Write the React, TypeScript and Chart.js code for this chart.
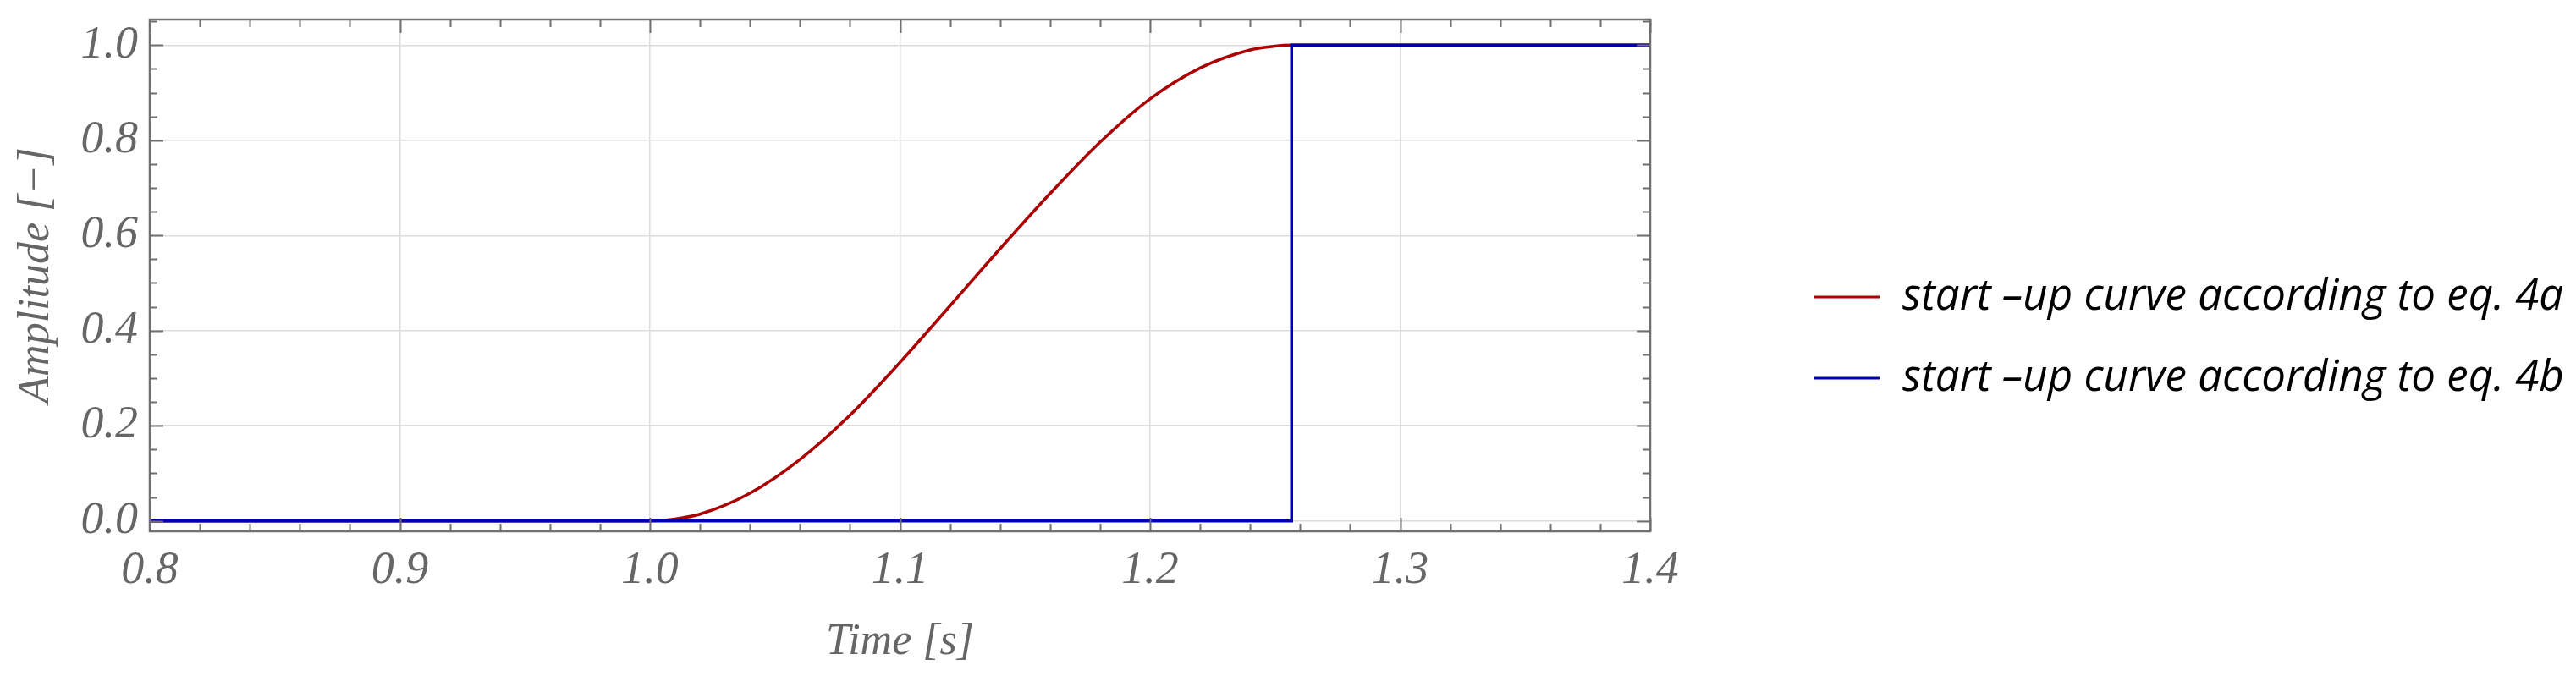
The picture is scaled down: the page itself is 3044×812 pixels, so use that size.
import React, { useEffect, useRef } from "react";
import { Chart, registerables } from "chart.js";

Chart.register(...registerables);

// ---- data ----
const xMajorTicks = [0.8, 0.9, 1.0, 1.1, 1.2, 1.3, 1.4];
const yMajorTicks = [0.0, 0.2, 0.4, 0.6, 0.8, 1.0];
const xRange = [0.8, 1.4];
const yRange = [-0.022, 1.054];

const seriesLabels = [
  "start \u2013up curve according to eq. 4a",
  "start \u2013up curve according to eq. 4b",
];
const seriesColors = ["#aa0000", "#0000aa"];

// eq. 4a (smooth start-up)
const eq4aTime = [0.8, 1.0, 1.01, 1.02, 1.04, 1.06, 1.08, 1.1, 1.12, 1.14, 1.16, 1.18, 1.2, 1.22, 1.24, 1.25, 1.2566, 1.4];
const eq4aAmp = [0, 0, 0.004, 0.014, 0.058, 0.129, 0.222, 0.333, 0.452, 0.572, 0.688, 0.796, 0.887, 0.952, 0.99, 0.998, 1.0, 1.0];

// eq. 4b (step)
const eq4bTime = [0.8, 1.2566, 1.2566, 1.4];
const eq4bAmp = [0, 0, 1, 1];

const FRAME = "#707070";
const TEXT_GRAY = "#666666";
const SERIF = "'Liberation Serif', 'DejaVu Serif', serif";

const minorTicks = (lo: number, hi: number, step: number) => {
  const out: number[] = [];
  const n = Math.round((hi - lo) / step);
  for (let i = 0; i <= n; i++) out.push(+(lo + i * step).toFixed(4));
  return out;
};

const framePlugin = {
  id: "frame",
  afterDatasetsDraw(chart: any) {
    const { ctx, chartArea: a, scales } = chart;
    const xs = scales.x, ys = scales.y;
    ctx.save();
    ctx.strokeStyle = FRAME;
    ctx.lineWidth = 2;
    const majX = new Set(xMajorTicks.map((v) => v.toFixed(2)));
    const majY = new Set(yMajorTicks.map((v) => v.toFixed(2)));
    ctx.beginPath();
    for (const v of minorTicks(0.8, 1.4, 0.02)) {
      const len = majX.has(v.toFixed(2)) ? 16 : 9;
      const px = Math.round(xs.getPixelForValue(v)) + 0.5;
      ctx.moveTo(px, a.bottom);
      ctx.lineTo(px, a.bottom - len);
      ctx.moveTo(px, a.top);
      ctx.lineTo(px, a.top + len);
    }
    for (const v of minorTicks(0, 1.05, 0.05)) {
      const len = majY.has(v.toFixed(2)) ? 16 : 9;
      const py = Math.round(ys.getPixelForValue(v)) + 0.5;
      ctx.moveTo(a.left, py);
      ctx.lineTo(a.left + len, py);
      ctx.moveTo(a.right, py);
      ctx.lineTo(a.right - len, py);
    }
    ctx.stroke();
    ctx.lineWidth = 2.5;
    ctx.strokeRect(a.left, a.top, a.right - a.left, a.bottom - a.top);
    ctx.restore();
  },
};

const legendPlugin = {
  id: "customLegend",
  afterDraw(chart: any) {
    const { ctx } = chart;
    ctx.save();
    chart.data.datasets.forEach((ds: any, i: number) => {
      const lineY = 351 + i * 96;
      ctx.strokeStyle = ds.borderColor;
      ctx.lineWidth = 3;
      ctx.beginPath();
      ctx.moveTo(2144, lineY);
      ctx.lineTo(2221, lineY);
      ctx.stroke();
      ctx.fillStyle = "#000000";
      ctx.font = "italic 51px 'Open Sans', 'Noto Sans', sans-serif";
      ctx.textBaseline = "alphabetic";
      ctx.textAlign = "left";
      ctx.fillText(ds.label, 2248, lineY + 15);
    });
    ctx.restore();
  },
};

export default function App() {
  const ref = useRef<HTMLCanvasElement | null>(null);

  useEffect(() => {
    document.body.style.margin = "0";
    const canvas = ref.current!;
    const chart = new Chart(canvas, {
      type: "line",
      data: {
        datasets: [
          {
            label: seriesLabels[0],
            data: eq4aTime.map((t, i) => ({ x: t, y: eq4aAmp[i] })),
            borderColor: seriesColors[0],
            backgroundColor: seriesColors[0],
            borderWidth: 3.5,
            pointRadius: 0,
            cubicInterpolationMode: "monotone",
            fill: false,
            order: 1,
          },
          {
            label: seriesLabels[1],
            data: eq4bTime.map((t, i) => ({ x: t, y: eq4bAmp[i] })),
            borderColor: seriesColors[1],
            backgroundColor: seriesColors[1],
            borderWidth: 3.5,
            pointRadius: 0,
            tension: 0,
            fill: false,
            order: 0,
          },
        ],
      },
      options: {
        animation: false,
        responsive: false,
        devicePixelRatio: 1,
        layout: { padding: { top: 23, right: 1094, bottom: 0, left: 0 } },
        plugins: { legend: { display: false }, tooltip: { enabled: false } },
        scales: {
          x: {
            type: "linear",
            min: xRange[0],
            max: xRange[1],
            afterBuildTicks: (s: any) => {
              s.ticks = xMajorTicks.map((v) => ({ value: v }));
            },
            afterFit: (s: any) => {
              s.height = 184;
              s.paddingLeft = 0;
              s.paddingRight = 0;
            },
            grid: { color: "#dcdcdc", lineWidth: 1.5, drawTicks: false },
            border: { display: false },
            ticks: {
              padding: 14,
              color: TEXT_GRAY,
              font: { family: SERIF, style: "italic", size: 54 },
              maxRotation: 0,
              autoSkip: false,
              callback: (v: any) => Number(v).toFixed(1),
            },
            title: {
              display: true,
              text: "Time [s]",
              color: TEXT_GRAY,
              font: { family: SERIF, style: "italic", size: 52 },
              padding: { top: 0, bottom: 21 },
            },
          },
          y: {
            type: "linear",
            min: yRange[0],
            max: yRange[1],
            afterBuildTicks: (s: any) => {
              s.ticks = yMajorTicks.map((v) => ({ value: v }));
            },
            afterFit: (s: any) => {
              s.width = 177;
              s.paddingTop = 0;
              s.paddingBottom = 0;
            },
            grid: { color: "#dcdcdc", lineWidth: 1.5, drawTicks: false },
            border: { display: false },
            ticks: {
              padding: 14,
              color: TEXT_GRAY,
              font: { family: SERIF, style: "italic", size: 54 },
              autoSkip: false,
              callback: (v: any) => Number(v).toFixed(1),
            },
            title: {
              display: true,
              text: "Amplitude [\u2212]",
              color: TEXT_GRAY,
              font: { family: SERIF, style: "italic", size: 52 },
              padding: { top: 12, bottom: 0 },
            },
          },
        },
      },
      plugins: [framePlugin, legendPlugin],
    });
    return () => chart.destroy();
  }, []);

  return (
    <canvas
      ref={ref}
      width={3044}
      height={812}
      style={{ display: "block", width: 3044, height: 812 }}
    />
  );
}
